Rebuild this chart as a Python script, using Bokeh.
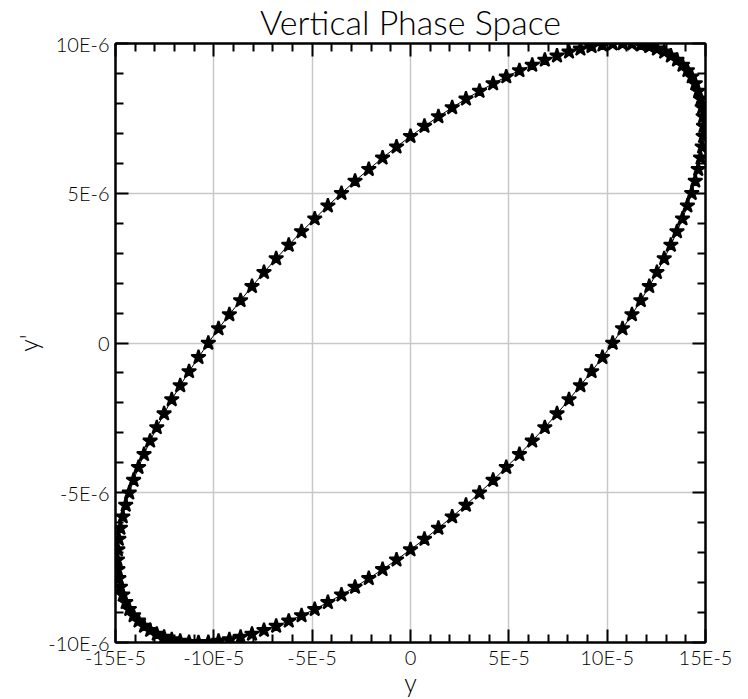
from bokeh.plotting import figure
from bokeh.models import FixedTicker, LinearAxis, Range1d, CustomLabelingPolicy
from bokeh.embed import file_html
from bokeh.resources import INLINE

# y in units of 1E-5, y' in units of 1E-6
y_e5 = [14.90, 14.88, 14.83, 14.75, 14.63, 14.48, 14.30, 14.08, 13.83, 13.55, 13.24, 12.90, 12.53, 12.14, 11.71, 11.26,
        10.78, 10.28, 9.76, 9.21, 8.64, 8.06, 7.45, 6.83, 6.19, 5.54, 4.87, 4.20, 3.51, 2.82, 2.12, 1.42, 0.71, 0.00,
        -0.71, -1.42, -2.12, -2.82, -3.51, -4.20, -4.87, -5.54, -6.19, -6.83, -7.45, -8.06, -8.64, -9.21, -9.76, -10.28,
        -10.78, -11.26, -11.71, -12.14, -12.53, -12.90, -13.24, -13.55, -13.83, -14.08, -14.30, -14.48, -14.63, -14.75,
        -14.83, -14.88, -14.90,
        -14.88, -14.83, -14.75, -14.63, -14.48, -14.30, -14.08, -13.83, -13.55, -13.24, -12.90, -12.53, -12.14, -11.71,
        -11.26, -10.78, -10.28, -9.76, -9.21, -8.64, -8.06, -7.45, -6.83, -6.19, -5.54, -4.87, -4.20, -3.51, -2.82, -2.12,
        -1.42, -0.71, 0.00,
        0.71, 1.42, 2.12, 2.82, 3.51, 4.20, 4.87, 5.54, 6.19, 6.83, 7.45, 8.06, 8.64, 9.21, 9.76, 10.28, 10.78, 11.26,
        11.71, 12.14, 12.53, 12.90, 13.24, 13.55, 13.83, 14.08, 14.30, 14.48, 14.63, 14.75, 14.83, 14.88]

yp_e6 = [7.24, 6.90, 6.55, 6.18, 5.80, 5.41, 5.00, 4.58, 4.15, 3.72, 3.27, 2.82, 2.36, 1.89, 1.42, 0.95, 0.48, 0.00,
         -0.48, -0.95, -1.42, -1.89, -2.36, -2.82, -3.27, -3.72, -4.15, -4.58, -5.00, -5.41, -5.80, -6.18, -6.55, -6.90,
         -7.24, -7.56, -7.86, -8.15, -8.41, -8.66, -8.89, -9.10, -9.28, -9.45, -9.59, -9.72, -9.82, -9.90, -9.95, -9.99,
         -10.00,
         -9.99, -9.95, -9.90, -9.82, -9.72, -9.59, -9.45, -9.28, -9.10, -8.89, -8.66, -8.41, -8.15, -7.86, -7.56, -7.24,
         -6.90, -6.55, -6.18, -5.80, -5.41, -5.00, -4.58, -4.15, -3.72, -3.27, -2.82, -2.36, -1.89, -1.42, -0.95, -0.48,
         0.00,
         0.48, 0.95, 1.42, 1.89, 2.36, 2.82, 3.27, 3.72, 4.15, 4.58, 5.00, 5.41, 5.80, 6.18, 6.55, 6.90, 7.24, 7.56, 7.86,
         8.15, 8.41, 8.66, 8.89, 9.10, 9.28, 9.45, 9.59, 9.72, 9.82, 9.90, 9.95, 9.99,
         10.00, 9.99, 9.95, 9.90, 9.82, 9.72, 9.59, 9.45, 9.28, 9.10, 8.89, 8.66, 8.41, 8.15, 7.86, 7.56]

x_ticks = [-15, -10, -5, 0, 5, 10, 15]
x_tick_labels = ["-15E-5", "-10E-5", "-5E-5", "0", "5E-5", "10E-5", "15E-5"]
x_minor = [-14, -13, -12, -11, -9, -8, -7, -6, -4, -3, -2, -1, 1, 2, 3, 4, 6, 7, 8, 9, 11, 12, 13, 14]
y_ticks = [-10, -5, 0, 5, 10]
y_tick_labels = ["-10E-6", "-5E-6", "0", "5E-6", "10E-6"]
y_minor = [-9, -8, -7, -6, -4, -3, -2, -1, 1, 2, 3, 4, 6, 7, 8, 9]

FONT = "Lato Light"

p = figure(width=748, height=699, x_range=Range1d(-15, 15), y_range=Range1d(-10, 10),
           output_backend="svg", toolbar_location=None,
           min_border_left=115, min_border_right=43, min_border_top=42, min_border_bottom=57,
           title="Vertical Phase Space")
p.background_fill_color = "white"
p.border_fill_color = "white"
p.outline_line_color = "black"
p.outline_line_width = 2

p.title.align = "center"
p.title.text_font = FONT
p.title.text_font_size = "34px"
p.title.text_font_style = "normal"
p.title.text_color = "black"
p.title.text_line_height = 1.0
p.title.standoff = -4
p.title.offset = 0

xt = FixedTicker(ticks=x_ticks, minor_ticks=x_minor)
yt = FixedTicker(ticks=y_ticks, minor_ticks=y_minor)

no_labels = CustomLabelingPolicy(code="""
for (const i of indices)
    indices.unset(i)
return indices
""")


def style_axis(ax, labels=True):
    ax.axis_line_color = "black"
    ax.axis_line_width = 2
    ax.major_tick_line_color = "black"
    ax.major_tick_line_width = 2
    ax.minor_tick_line_color = "black"
    ax.minor_tick_line_width = 2
    ax.major_tick_in = 13
    ax.major_tick_out = 0
    ax.minor_tick_in = 8
    ax.minor_tick_out = 0
    if labels:
        ax.major_label_text_font = FONT
        ax.major_label_text_font_size = "20px"
        ax.major_label_text_color = "black"
        ax.major_label_text_line_height = 1.0
        ax.axis_label_text_font = FONT
        ax.axis_label_text_font_size = "25px"
        ax.axis_label_text_font_style = "normal"
        ax.axis_label_text_color = "black"
        ax.axis_label_text_line_height = 1.0
    else:
        ax.major_label_policy = no_labels
        ax.major_label_text_font_size = "1px"
        ax.major_label_standoff = 0


xa = p.xaxis[0]
xa.ticker = xt
xa.major_label_overrides = {t: l for t, l in zip(x_ticks, x_tick_labels)}
xa.axis_label = "y"
style_axis(xa)
xa.major_label_standoff = 2
xa.axis_label_standoff = -5

ya = p.yaxis[0]
ya.ticker = yt
ya.major_label_overrides = {t: l for t, l in zip(y_ticks, y_tick_labels)}
ya.axis_label = "y'"
ya.major_label_orientation = "horizontal"
style_axis(ya)
ya.major_label_standoff = 6
ya.axis_label_standoff = 2

ax_top = LinearAxis(ticker=xt)
style_axis(ax_top, labels=False)
p.add_layout(ax_top, "above")
ax_right = LinearAxis(ticker=yt)
style_axis(ax_right, labels=False)
p.add_layout(ax_right, "right")

p.xgrid.ticker = xt
p.ygrid.ticker = yt
for g in (p.xgrid, p.ygrid):
    g.grid_line_color = "#c8c8c8"
    g.grid_line_width = 1.5

p.line(y_e5 + y_e5[:1], yp_e6 + yp_e6[:1], line_color="black", line_width=1)
p.scatter(y_e5, yp_e6, marker="star", size=15, fill_color="black", line_color="black", line_width=2)

open("out.html", "w").write(file_html(p, INLINE))
